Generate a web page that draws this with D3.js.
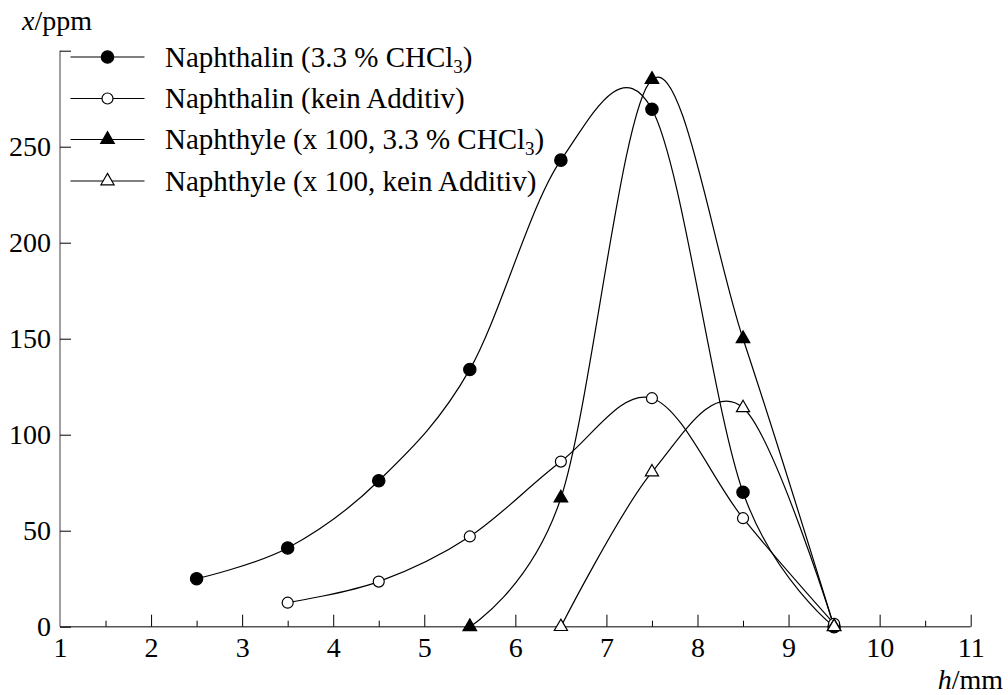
<!DOCTYPE html>
<html>
<head>
<meta charset="utf-8">
<script src="https://cdn.jsdelivr.net/npm/d3@7"></script>
</head>
<body style="margin:0; background:#fff">
<div id="chart"></div>
<script>
// h in mm
var hValues = [2.5, 3.5, 4.5, 5.5, 6.5, 7.5, 8.5, 9.5];

// x in ppm (Naphthyle x 100)
var naphChcl   = [25, 41, 76, 134, 243, 269.5, 70, 0];
var naphNoAdd  = [null, 12.5, 23.5, 47, 86, 119, 56.5, 1.5];
var ylChcl     = [null, null, null, 0, 67, 285, 150, 0];
var ylNoAdd    = [null, null, null, null, 0, 80.5, 114, 0];

var seriesNames = [
    ["Naphthalin (3.3 % CHCl", "3", ")"],
    ["Naphthalin (kein Additiv)", "", ""],
    ["Naphthyle (x 100, 3.3 % CHCl", "3", ")"],
    ["Naphthyle (x 100, kein Additiv)", "", ""]
];
var markerShapes = ["circle", "circle", "triangle", "triangle"];
var markerFilled = [true, false, true, false];

var xMajor = [1, 2, 3, 4, 5, 6, 7, 8, 9, 10, 11];
var xMinor = [1.5, 2.5, 3.5, 4.5, 5.5, 6.5, 7.5, 8.5, 9.5, 10.5];
var yTicks = [0, 50, 100, 150, 200, 250, 300];

var allSeries = [naphChcl, naphNoAdd, ylChcl, ylNoAdd];

var FONT = "'Liberation Serif', monospace";
var w = 1008, h = 695;
var svg = d3.select("#chart").append("svg").attr("width", w).attr("height", h);

var xScale = d3.scaleLinear().domain([1, 11]).range([60, 970.7]);
var yScale = d3.scaleLinear().domain([0, 300]).range([626.7, 50.7]);

// axis lines
svg.append("line")
    .attr("x1", xScale(1)).attr("x2", xScale(1))
    .attr("y1", yScale(0)).attr("y2", yScale(300))
    .attr("stroke", "#888").attr("stroke-width", 1.6);
svg.append("line")
    .attr("x1", xScale(1)).attr("x2", xScale(11))
    .attr("y1", yScale(0)).attr("y2", yScale(0))
    .attr("stroke", "#555").attr("stroke-width", 1.6);

// x ticks (inside)
var xAxis = svg.append("g").attr("transform", "translate(0," + yScale(0) + ")")
    .call(d3.axisBottom(xScale).tickValues(xMajor).tickSizeInner(-12).tickSizeOuter(0).tickPadding(10).tickFormat(d3.format("d")));
xAxis.select(".domain").remove();
xAxis.selectAll(".tick").filter(function (d) { return d === 1; }).select("line").remove();
xAxis.selectAll("text").style("font-family", FONT).style("font-size", "28px");

var xAxisMinor = svg.append("g").attr("transform", "translate(0," + yScale(0) + ")")
    .call(d3.axisBottom(xScale).tickValues(xMinor).tickSizeInner(-6).tickSizeOuter(0).tickFormat(""));
xAxisMinor.select(".domain").remove();

// y ticks (inside)
var yAxis = svg.append("g").attr("transform", "translate(" + xScale(1) + ",0)")
    .call(d3.axisLeft(yScale).tickValues(yTicks).tickSizeInner(-11).tickSizeOuter(0).tickPadding(9)
        .tickFormat(function (d) { return d === 300 ? "" : d; }));
yAxis.select(".domain").remove();
yAxis.selectAll("text").style("font-family", FONT).style("font-size", "28px");

// axis titles
var yTitle = svg.append("text").attr("x", 22).attr("y", 30)
    .style("font-family", FONT).style("font-size", "28px");
yTitle.append("tspan").style("font-style", "italic").text("x");
yTitle.append("tspan").text("/ppm");

var xTitle = svg.append("text").attr("x", 1003).attr("y", 689).attr("text-anchor", "end")
    .style("font-family", FONT).style("font-size", "28px");
xTitle.append("tspan").style("font-style", "italic").text("h");
xTitle.append("tspan").text("/mm");

// curves
var line = d3.line()
    .x(function (d) { return xScale(d[0]); })
    .y(function (d) { return yScale(d[1]); })
    .curve(d3.curveCardinal.tension(0));

function pairs(vals) {
    return hValues.map(function (hv, i) { return [hv, vals[i]]; }).filter(function (d) { return d[1] !== null; });
}

allSeries.forEach(function (vals) {
    svg.append("path").attr("d", line(pairs(vals)))
        .attr("fill", "none").attr("stroke", "#000").attr("stroke-width", 1.2);
});

function symbolPath(i) {
    if (markerShapes[i] === "circle") {
        return d3.symbol().type(d3.symbolCircle).size(markerFilled[i] ? 120 : 95)();
    }
    return d3.symbol().type(d3.symbolTriangle).size(markerFilled[i] ? 80 : 75)();
}

function drawMarker(g, i, x, y) {
    g.append("path").attr("d", symbolPath(i))
        .attr("transform", "translate(" + x + "," + y + ")")
        .attr("fill", markerFilled[i] ? "#000" : "#fff")
        .attr("stroke", "#000").attr("stroke-width", 1.2);
}

var marks = svg.append("g");
allSeries.forEach(function (vals, i) {
    pairs(vals).forEach(function (d) {
        drawMarker(marks, i, xScale(d[0]), yScale(d[1]));
    });
});

// legend
var legend = svg.append("g");
var legendY = [57, 98.5, 139.5, 181];
seriesNames.forEach(function (name, i) {
    var ly = legendY[i];
    legend.append("line").attr("x1", 70.5).attr("x2", 144.5).attr("y1", ly).attr("y2", ly)
        .attr("stroke", "#000").attr("stroke-width", 1.2);
    drawMarker(legend, i, 107.5, ly);
    var t = legend.append("text").attr("x", 165).attr("y", ly + 9.5)
        .style("font-family", FONT).style("font-size", "29px");
    t.append("tspan").text(name[0]);
    if (name[1]) {
        t.append("tspan").style("font-size", "19px").attr("dy", 6).text(name[1]);
        t.append("tspan").attr("dy", -6).text(name[2]);
    }
});
</script>
</body>
</html>
